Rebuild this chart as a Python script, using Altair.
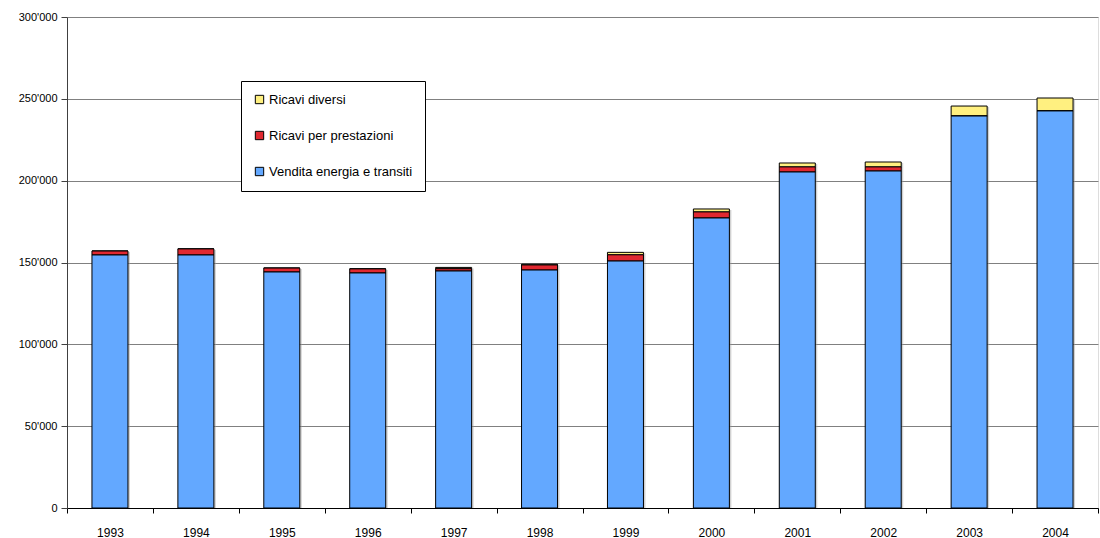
import altair as alt
import pandas as pd

years = ["1993", "1994", "1995", "1996", "1997", "1998", "1999", "2000", "2001", "2002", "2003", "2004"]
vendita = [154600, 154600, 144200, 143600, 144800, 145400, 150900, 177200, 205300, 205900, 239500, 242600]
prestazioni = [2400, 3700, 2400, 2500, 1400, 3100, 3800, 3700, 3100, 2500, 0, 0]
diversi = [0, 0, 0, 0, 800, 500, 1500, 1800, 2400, 3000, 6100, 7900]

series = ["Ricavi diversi", "Ricavi per prestazioni", "Vendita energia e transiti"]
colors = ["#FFF080", "#E02830", "#63A8FF"]
stack_order = {"Vendita energia e transiti": 0, "Ricavi per prestazioni": 1, "Ricavi diversi": 2}

rows = []
for i, y in enumerate(years):
    for name, vals in zip(series, [diversi, prestazioni, vendita]):
        rows.append({"anno": y, "serie": name, "valore": vals[i], "ord": stack_order[name]})
df = pd.DataFrame(rows)

font = "Liberation Sans"

x_enc = alt.X(
    "anno:N",
    title=None,
    scale=alt.Scale(paddingInner=0, paddingOuter=0),
    axis=alt.Axis(
        labelAngle=0, tickBand="extent", domainColor="#000000", tickColor="#000000",
        labelFont=font, labelFontSize=12, labelColor="#000000", labelPadding=14,
        tickSize=5, grid=False,
    ),
)
y_axis = alt.Axis(
    values=[0, 50000, 100000, 150000, 200000, 250000, 300000],
    labelExpr="replace(format(datum.value, ','), ',', \"'\")",
    labelFont=font, labelFontSize=11, labelColor="#000000",
    grid=True, gridColor="#808080", gridWidth=1,
    domainColor="#404040", tickColor="#404040", tickSize=6, labelPadding=4,
)
y_scale = alt.Scale(domain=[0, 300000], nice=False)

shadow = alt.Chart(df).mark_bar(size=36, color="#9a9a9a", opacity=0.45, xOffset=2, yOffset=1).encode(
    x=x_enc,
    y=alt.Y("sum(valore):Q", scale=y_scale, title=None, axis=y_axis),
)

bars = alt.Chart(df).mark_bar(size=36, stroke="#000000", strokeWidth=1).encode(
    x=x_enc,
    y=alt.Y("valore:Q", title=None, stack="zero", scale=y_scale, axis=y_axis),
    color=alt.Color(
        "serie:N",
        scale=alt.Scale(domain=series, range=colors),
        sort=series,
        legend=alt.Legend(
            title=None, orient="none", legendX=174, legendY=64,
            fillColor="#FFFFFF", strokeColor="#000000",
            padding=12, rowPadding=22, symbolType="square", symbolSize=70,
            symbolStrokeColor="#000000", symbolStrokeWidth=1,
            labelFont=font, labelFontSize=13, labelColor="#000000",
            labelOffset=3, labelLimit=300,
        ),
    ),
    order=alt.Order("ord:Q", sort="ascending"),
)

chart = alt.layer(shadow, bars).properties(
    width=1031,
    height=491,
    autosize=alt.AutoSizeParams(type="none"),
    padding={"left": 67, "top": 17, "right": 2, "bottom": 30},
).configure_view(stroke=None).configure(background="#FFFFFF")

chart.save("out.html", embed_options={"renderer": "svg", "actions": False})
